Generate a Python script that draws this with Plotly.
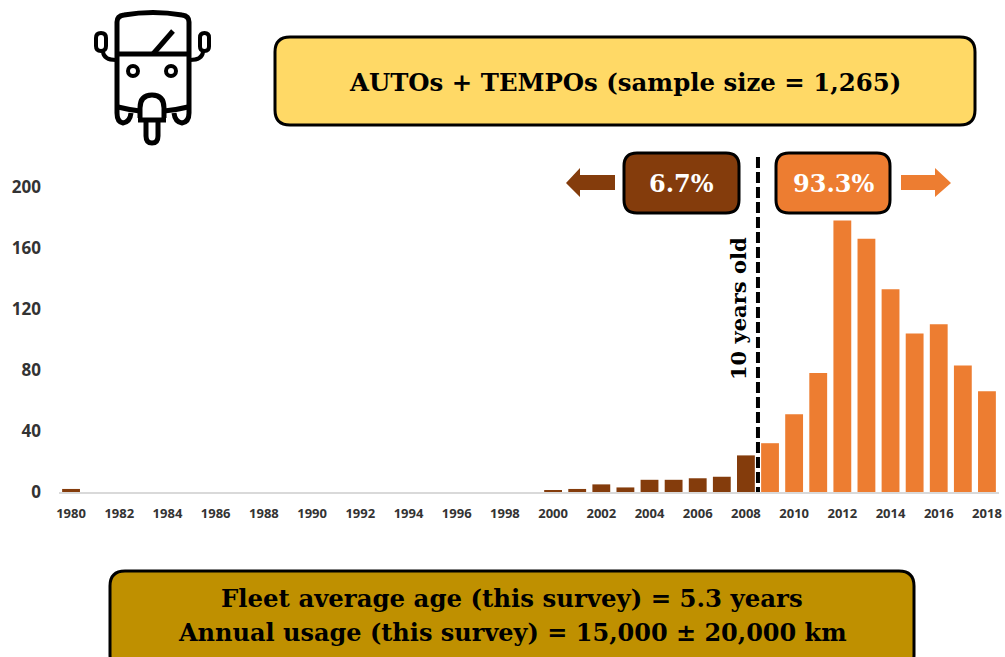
import plotly.graph_objects as go

years = list(range(1980, 2019))
values = [2] + [0]*19 + [1, 2, 5, 3, 8, 8, 9, 10, 24, 32, 51, 78, 178, 166, 133, 104, 110, 83, 66]
y_ticks = [0, 40, 80, 120, 160, 200]
x_ticks = list(range(1980, 2019, 2))
threshold = 2008.5
BROWN = "#843C0C"
ORANGE = "#ED7D31"
YELLOW = "#FFD966"
GOLD = "#BF9000"
SLAB = "DejaVu Serif"
SANS = "Open Sans"

colors = [BROWN if y < threshold else ORANGE for y in years]

fig = go.Figure(go.Bar(x=years, y=values, marker=dict(color=colors, line_width=0), width=0.74,
                       hoverinfo="x+y"))
# invisible full-page axes, in page pixels, for the decoration
fig.add_trace(go.Scatter(x=[0, 1005], y=[0, 657], xaxis="x2", yaxis="y2", mode="markers",
                         marker=dict(opacity=0), hoverinfo="skip", showlegend=False))


def rrect(x0, y0, x1, y1, r):
    return (f"M{x0+r},{y0} L{x1-r},{y0} Q{x1},{y0} {x1},{y0+r} L{x1},{y1-r} Q{x1},{y1} {x1-r},{y1} "
            f"L{x0+r},{y1} Q{x0},{y1} {x0},{y1-r} L{x0},{y0+r} Q{x0},{y0} {x0+r},{y0} Z")


shapes = []


def path(d, fill="rgba(0,0,0,0)", lw=5, lc="black"):
    shapes.append(dict(type="path", path=d, xref="x2", yref="y2", fillcolor=fill,
                       line=dict(color=lc, width=lw), layer="above"))


def eye(cx, cy, r):
    shapes.append(dict(type="circle", xref="x2", yref="y2", x0=cx-r, x1=cx+r, y0=cy-r, y1=cy+r,
                       fillcolor="rgba(0,0,0,0)", line=dict(color="black", width=4), layer="above"))


path(rrect(275, 37, 975, 125, 15), YELLOW, 3)
path(rrect(624, 153, 739, 213, 13), BROWN, 3)
path(rrect(776, 153, 890, 213, 13), ORANGE, 3)
path(rrect(110, 571, 914, 670, 15), GOLD, 3)
path("M566,183 L580,168 L580,175 L615,175 L615,190 L580,190 L580,197 Z", BROWN, 0, BROWN)
path("M951,183 L935,168 L935,175 L901,175 L901,190 L935,190 L935,197 Z", ORANGE, 0, ORANGE)
# threshold line
shapes.append(dict(type="line", xref="x", yref="y2", x0=threshold, x1=threshold, y0=157, y1=492,
                   line=dict(color="black", width=4, dash="11px,4px"), layer="above"))
# auto-rickshaw icon
path("M117,113 L117,22 Q117,16 124,15 Q153,10 182,15 Q189,16 189,22 L189,113 Q189,122 182,123 Q175,122 174,113")
path("M117,113 Q117,122 123,123 Q130,122 131,113")
path("M117,54 L189,54")
path("M153,54 L173,31")
path("M118,107 Q130,110 140,111")
path("M188,107 Q176,110 164,111")
path("M140,118 L140,108 Q140,95 152,95 Q164,95 164,108 L164,118")
path("M138,120 L166,120")
path("M146,122 L146,136 Q146,143 152,143 Q158,143 158,136 L158,122")
eye(133, 71, 5)
eye(171, 71, 5)
path(rrect(96, 33, 106, 51, 5), lw=4)
path(rrect(200, 33, 209, 51, 4.5), lw=4)
path("M103,52 Q104,60 116,60", lw=4)
path("M203,52 Q202,60 190,60", lw=4)

annotations = []


def note(x, y, text, size, color="black", angle=0, family=SLAB):
    annotations.append(dict(x=x, y=y, xref="x2", yref="y2", text=text, showarrow=False,
                            font=dict(family=family, size=size, color=color), textangle=angle,
                            xanchor="center", yanchor="middle"))


note(625, 82, "<b>AUTOs + TEMPOs (sample size = 1,265)</b>", 24.4)
note(681, 183, "<b>6.7%</b>", 24, "white")
note(833, 183, "<b>93.3%</b>", 24, "white")
note(738, 309, "<b>10 years old</b>", 21, angle=-90)
note(512, 598, "<b>Fleet average age (this survey) = 5.3 years</b>", 24.4)
note(512, 632, "<b>Annual usage (this survey) = 15,000 ± 20,000 km</b>", 24)

fig.update_layout(
    width=1005, height=657, margin=dict(l=0, r=0, t=0, b=0), autosize=False,
    plot_bgcolor="rgba(0,0,0,0)", paper_bgcolor="white", showlegend=False, bargap=0.26,
    shapes=shapes, annotations=annotations,
    xaxis=dict(domain=[59/1005, 999/1005], range=[1979.5, 2018.5], tickmode="array", tickvals=x_ticks,
               showgrid=False, zeroline=False, showline=True, linecolor="#D9D9D9", linewidth=1.5,
               automargin=False, ticks="", ticklabelstandoff=9,
               tickfont=dict(family=SANS, size=13, color="#333333", weight="bold")),
    yaxis=dict(domain=[(657-492)/657, (657-187)/657], range=[0, 200], tickmode="array", tickvals=y_ticks,
               showgrid=False, zeroline=False, showline=False, ticks="", ticklabelstandoff=17, automargin=False,
               tickfont=dict(family=SANS, size=17, color="#333333", weight="bold")),
    xaxis2=dict(domain=[0, 1], range=[0, 1005], visible=False, anchor="y2", automargin=False),
    yaxis2=dict(domain=[0, 1], range=[657, 0], visible=False, anchor="x2", automargin=False),
)

fig.write_html("out.html", config=dict(displayModeBar=False), post_script="document.body.style.margin='0';")
